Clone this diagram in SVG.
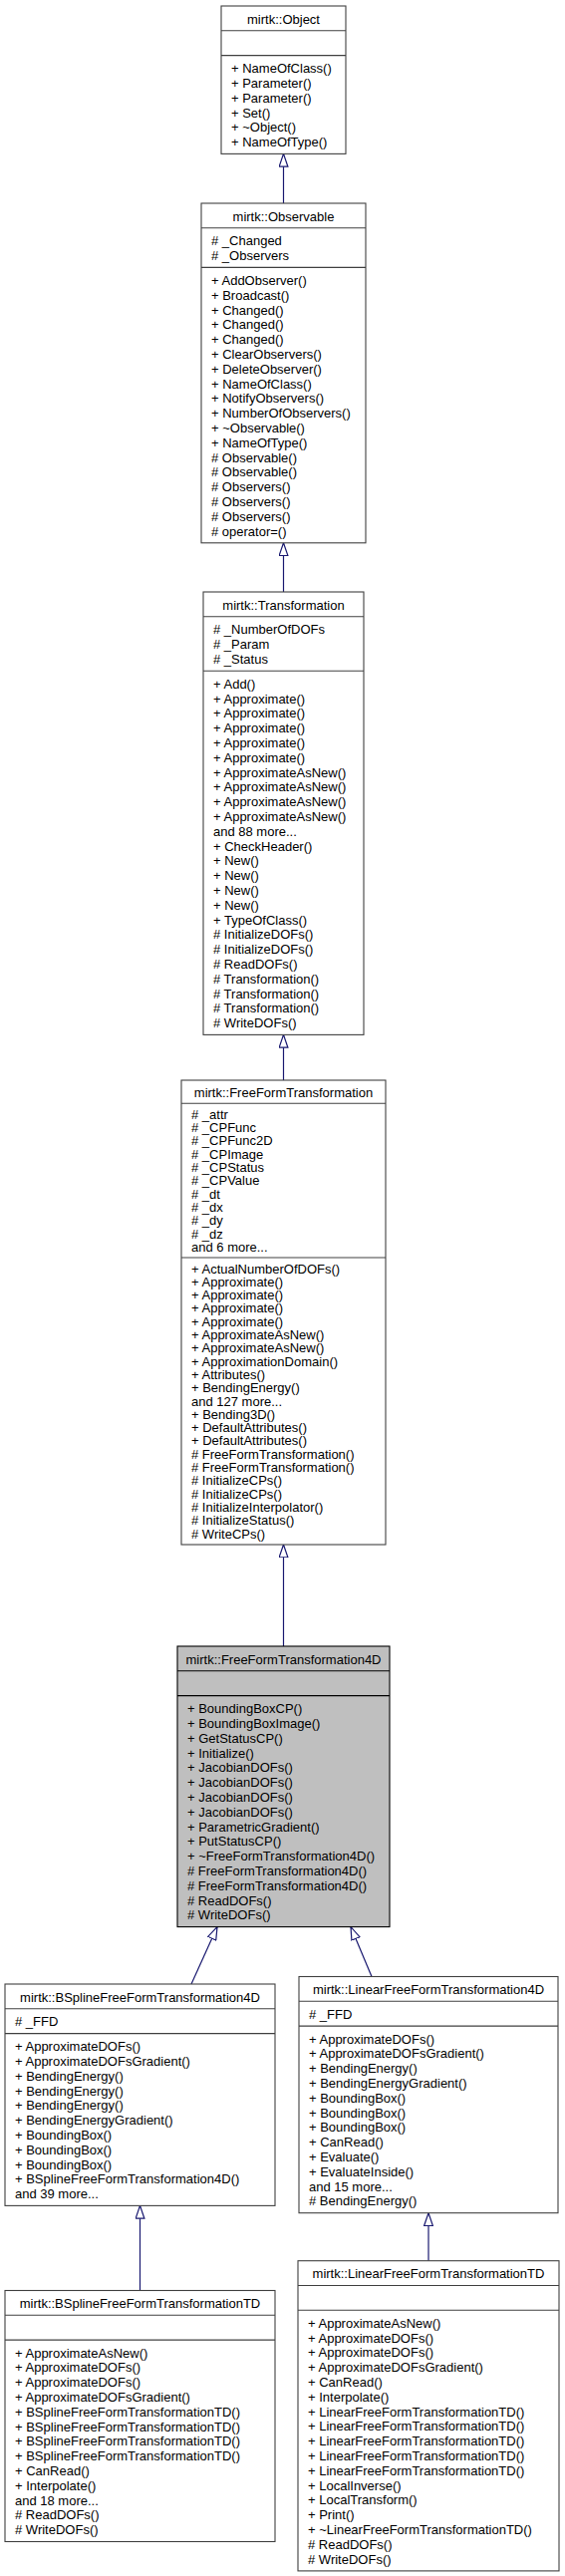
<svg xmlns="http://www.w3.org/2000/svg" width="567" height="2585" viewBox="0 0 567 2585">
<style>
.box{fill:#fff;stroke:#404040;stroke-width:1.1}
.hl{fill:#bfbfbf;stroke:#000;stroke-width:1.1}
.sep{stroke:#404040;stroke-width:1.1}
.seph{stroke:#000;stroke-width:1.1}
text{font-family:"Liberation Sans",Arial,Helvetica,sans-serif;font-size:13px;fill:#000}
.c{text-anchor:middle}
.edge{fill:none;stroke:#191970;stroke-width:1.2;marker-end:url(#inh)}
</style>
<defs>
<marker id="inh" viewBox="0 0 14 10" refX="13.4" refY="5" markerWidth="14" markerHeight="10" markerUnits="userSpaceOnUse" orient="auto">
<path d="M0.6,0.6 L13.4,5 L0.6,9.4 Z" fill="#fff" stroke="#191970" stroke-width="1.2"/>
</marker>
</defs>

<g id="edges">
<path class="edge" d="M284.5,204 L284.5,154.4"/>
<path class="edge" d="M284.5,594 L284.5,544.8"/>
<path class="edge" d="M284.5,1084 L284.5,1038.4"/>
<path class="edge" d="M284.5,1652 L284.5,1550"/>
<path class="edge" d="M192,1991 L218,1933.6"/>
<path class="edge" d="M373,1983.5 L352,1933.6"/>
<path class="edge" d="M140.5,2298.5 L140.5,2213.4"/>
<path class="edge" d="M430,2268.7 L430,2220.7"/>
</g>

<g id="Object">
<rect class="box" x="222" y="6" width="125" height="148.4"/>
<line class="sep" x1="222" y1="30.8" x2="347" y2="30.8"/>
<line class="sep" x1="222" y1="55.6" x2="347" y2="55.6"/>
<text class="c" x="284.5" y="23.5">mirtk::Object</text>
<text x="232" y="73.1"><tspan x="232">+ NameOfClass()</tspan><tspan x="232" dy="14.8">+ Parameter()</tspan><tspan x="232" dy="14.8">+ Parameter()</tspan><tspan x="232" dy="14.8">+ Set()</tspan><tspan x="232" dy="14.8">+ ~Object()</tspan><tspan x="232" dy="14.8">+ NameOfType()</tspan></text>
</g>

<g id="Observable">
<rect class="box" x="202" y="204" width="165" height="340.8"/>
<line class="sep" x1="202" y1="228.8" x2="367" y2="228.8"/>
<line class="sep" x1="202" y1="268.4" x2="367" y2="268.4"/>
<text class="c" x="284.5" y="221.5">mirtk::Observable</text>
<text x="212" y="246.3"><tspan x="212"># _Changed</tspan><tspan x="212" dy="14.8"># _Observers</tspan></text>
<text x="212" y="285.9"><tspan x="212">+ AddObserver()</tspan><tspan x="212" dy="14.8">+ Broadcast()</tspan><tspan x="212" dy="14.8">+ Changed()</tspan><tspan x="212" dy="14.8">+ Changed()</tspan><tspan x="212" dy="14.8">+ Changed()</tspan><tspan x="212" dy="14.8">+ ClearObservers()</tspan><tspan x="212" dy="14.8">+ DeleteObserver()</tspan><tspan x="212" dy="14.8">+ NameOfClass()</tspan><tspan x="212" dy="14.8">+ NotifyObservers()</tspan><tspan x="212" dy="14.8">+ NumberOfObservers()</tspan><tspan x="212" dy="14.8">+ ~Observable()</tspan><tspan x="212" dy="14.8">+ NameOfType()</tspan><tspan x="212" dy="14.8"># Observable()</tspan><tspan x="212" dy="14.8"># Observable()</tspan><tspan x="212" dy="14.8"># Observers()</tspan><tspan x="212" dy="14.8"># Observers()</tspan><tspan x="212" dy="14.8"># Observers()</tspan><tspan x="212" dy="14.8"># operator=()</tspan></text>
</g>

<g id="Transformation">
<rect class="box" x="204" y="594" width="161" height="444.4"/>
<line class="sep" x1="204" y1="618.8" x2="365" y2="618.8"/>
<line class="sep" x1="204" y1="673.2" x2="365" y2="673.2"/>
<text class="c" x="284.5" y="611.5">mirtk::Transformation</text>
<text x="214" y="636.3"><tspan x="214"># _NumberOfDOFs</tspan><tspan x="214" dy="14.8"># _Param</tspan><tspan x="214" dy="14.8"># _Status</tspan></text>
<text x="214" y="690.7"><tspan x="214">+ Add()</tspan><tspan x="214" dy="14.8">+ Approximate()</tspan><tspan x="214" dy="14.8">+ Approximate()</tspan><tspan x="214" dy="14.8">+ Approximate()</tspan><tspan x="214" dy="14.8">+ Approximate()</tspan><tspan x="214" dy="14.8">+ Approximate()</tspan><tspan x="214" dy="14.8">+ ApproximateAsNew()</tspan><tspan x="214" dy="14.8">+ ApproximateAsNew()</tspan><tspan x="214" dy="14.8">+ ApproximateAsNew()</tspan><tspan x="214" dy="14.8">+ ApproximateAsNew()</tspan><tspan x="214" dy="14.8">and 88 more...</tspan><tspan x="214" dy="14.8">+ CheckHeader()</tspan><tspan x="214" dy="14.8">+ New()</tspan><tspan x="214" dy="14.8">+ New()</tspan><tspan x="214" dy="14.8">+ New()</tspan><tspan x="214" dy="14.8">+ New()</tspan><tspan x="214" dy="14.8">+ TypeOfClass()</tspan><tspan x="214" dy="14.8"># InitializeDOFs()</tspan><tspan x="214" dy="14.8"># InitializeDOFs()</tspan><tspan x="214" dy="14.8"># ReadDOFs()</tspan><tspan x="214" dy="14.8"># Transformation()</tspan><tspan x="214" dy="14.8"># Transformation()</tspan><tspan x="214" dy="14.8"># Transformation()</tspan><tspan x="214" dy="14.8"># WriteDOFs()</tspan></text>
</g>

<g id="FreeFormTransformation">
<rect class="box" x="182" y="1084" width="205" height="466"/>
<line class="sep" x1="182" y1="1107.3" x2="387" y2="1107.3"/>
<line class="sep" x1="182" y1="1262" x2="387" y2="1262"/>
<text class="c" x="284.5" y="1100.5">mirtk::FreeFormTransformation</text>
<text x="192" y="1122.8"><tspan x="192"># _attr</tspan><tspan x="192" dy="13.3"># _CPFunc</tspan><tspan x="192" dy="13.3"># _CPFunc2D</tspan><tspan x="192" dy="13.3"># _CPImage</tspan><tspan x="192" dy="13.3"># _CPStatus</tspan><tspan x="192" dy="13.3"># _CPValue</tspan><tspan x="192" dy="13.3"># _dt</tspan><tspan x="192" dy="13.3"># _dx</tspan><tspan x="192" dy="13.3"># _dy</tspan><tspan x="192" dy="13.3"># _dz</tspan><tspan x="192" dy="13.3">and 6 more...</tspan></text>
<text x="192" y="1277.5"><tspan x="192">+ ActualNumberOfDOFs()</tspan><tspan x="192" dy="13.3">+ Approximate()</tspan><tspan x="192" dy="13.3">+ Approximate()</tspan><tspan x="192" dy="13.3">+ Approximate()</tspan><tspan x="192" dy="13.3">+ Approximate()</tspan><tspan x="192" dy="13.3">+ ApproximateAsNew()</tspan><tspan x="192" dy="13.3">+ ApproximateAsNew()</tspan><tspan x="192" dy="13.3">+ ApproximationDomain()</tspan><tspan x="192" dy="13.3">+ Attributes()</tspan><tspan x="192" dy="13.3">+ BendingEnergy()</tspan><tspan x="192" dy="13.3">and 127 more...</tspan><tspan x="192" dy="13.3">+ Bending3D()</tspan><tspan x="192" dy="13.3">+ DefaultAttributes()</tspan><tspan x="192" dy="13.3">+ DefaultAttributes()</tspan><tspan x="192" dy="13.3"># FreeFormTransformation()</tspan><tspan x="192" dy="13.3"># FreeFormTransformation()</tspan><tspan x="192" dy="13.3"># InitializeCPs()</tspan><tspan x="192" dy="13.3"># InitializeCPs()</tspan><tspan x="192" dy="13.3"># InitializeInterpolator()</tspan><tspan x="192" dy="13.3"># InitializeStatus()</tspan><tspan x="192" dy="13.3"># WriteCPs()</tspan></text>
</g>

<g id="FreeFormTransformation4D">
<rect class="hl" x="178" y="1652" width="213" height="281.6"/>
<line class="seph" x1="178" y1="1676.8" x2="391" y2="1676.8"/>
<line class="seph" x1="178" y1="1701.6" x2="391" y2="1701.6"/>
<text class="c" x="284.5" y="1669.5">mirtk::FreeFormTransformation4D</text>
<text x="188" y="1719.1"><tspan x="188">+ BoundingBoxCP()</tspan><tspan x="188" dy="14.8">+ BoundingBoxImage()</tspan><tspan x="188" dy="14.8">+ GetStatusCP()</tspan><tspan x="188" dy="14.8">+ Initialize()</tspan><tspan x="188" dy="14.8">+ JacobianDOFs()</tspan><tspan x="188" dy="14.8">+ JacobianDOFs()</tspan><tspan x="188" dy="14.8">+ JacobianDOFs()</tspan><tspan x="188" dy="14.8">+ JacobianDOFs()</tspan><tspan x="188" dy="14.8">+ ParametricGradient()</tspan><tspan x="188" dy="14.8">+ PutStatusCP()</tspan><tspan x="188" dy="14.8">+ ~FreeFormTransformation4D()</tspan><tspan x="188" dy="14.8"># FreeFormTransformation4D()</tspan><tspan x="188" dy="14.8"># FreeFormTransformation4D()</tspan><tspan x="188" dy="14.8"># ReadDOFs()</tspan><tspan x="188" dy="14.8"># WriteDOFs()</tspan></text>
</g>

<g id="BSplineFreeFormTransformation4D">
<rect class="box" x="5" y="1991" width="271" height="222.4"/>
<line class="sep" x1="5" y1="2015.8" x2="276" y2="2015.8"/>
<line class="sep" x1="5" y1="2040.6" x2="276" y2="2040.6"/>
<text class="c" x="140.5" y="2008.5">mirtk::BSplineFreeFormTransformation4D</text>
<text x="15" y="2033.3"># _FFD</text>
<text x="15" y="2058.1"><tspan x="15">+ ApproximateDOFs()</tspan><tspan x="15" dy="14.8">+ ApproximateDOFsGradient()</tspan><tspan x="15" dy="14.8">+ BendingEnergy()</tspan><tspan x="15" dy="14.8">+ BendingEnergy()</tspan><tspan x="15" dy="14.8">+ BendingEnergy()</tspan><tspan x="15" dy="14.8">+ BendingEnergyGradient()</tspan><tspan x="15" dy="14.8">+ BoundingBox()</tspan><tspan x="15" dy="14.8">+ BoundingBox()</tspan><tspan x="15" dy="14.8">+ BoundingBox()</tspan><tspan x="15" dy="14.8">+ BSplineFreeFormTransformation4D()</tspan><tspan x="15" dy="14.8">and 39 more...</tspan></text>
</g>

<g id="LinearFreeFormTransformation4D">
<rect class="box" x="300" y="1983.5" width="260" height="237.2"/>
<line class="sep" x1="300" y1="2008.3" x2="560" y2="2008.3"/>
<line class="sep" x1="300" y1="2033.1" x2="560" y2="2033.1"/>
<text class="c" x="430" y="2001">mirtk::LinearFreeFormTransformation4D</text>
<text x="310" y="2025.8"># _FFD</text>
<text x="310" y="2050.6"><tspan x="310">+ ApproximateDOFs()</tspan><tspan x="310" dy="14.8">+ ApproximateDOFsGradient()</tspan><tspan x="310" dy="14.8">+ BendingEnergy()</tspan><tspan x="310" dy="14.8">+ BendingEnergyGradient()</tspan><tspan x="310" dy="14.8">+ BoundingBox()</tspan><tspan x="310" dy="14.8">+ BoundingBox()</tspan><tspan x="310" dy="14.8">+ BoundingBox()</tspan><tspan x="310" dy="14.8">+ CanRead()</tspan><tspan x="310" dy="14.8">+ Evaluate()</tspan><tspan x="310" dy="14.8">+ EvaluateInside()</tspan><tspan x="310" dy="14.8">and 15 more...</tspan><tspan x="310" dy="14.8"># BendingEnergy()</tspan></text>
</g>

<g id="BSplineFreeFormTransformationTD">
<rect class="box" x="5" y="2298.5" width="271" height="252"/>
<line class="sep" x1="5" y1="2323.3" x2="276" y2="2323.3"/>
<line class="sep" x1="5" y1="2348.1" x2="276" y2="2348.1"/>
<text class="c" x="140.5" y="2316">mirtk::BSplineFreeFormTransformationTD</text>
<text x="15" y="2365.6"><tspan x="15">+ ApproximateAsNew()</tspan><tspan x="15" dy="14.8">+ ApproximateDOFs()</tspan><tspan x="15" dy="14.8">+ ApproximateDOFs()</tspan><tspan x="15" dy="14.8">+ ApproximateDOFsGradient()</tspan><tspan x="15" dy="14.8">+ BSplineFreeFormTransformationTD()</tspan><tspan x="15" dy="14.8">+ BSplineFreeFormTransformationTD()</tspan><tspan x="15" dy="14.8">+ BSplineFreeFormTransformationTD()</tspan><tspan x="15" dy="14.8">+ BSplineFreeFormTransformationTD()</tspan><tspan x="15" dy="14.8">+ CanRead()</tspan><tspan x="15" dy="14.8">+ Interpolate()</tspan><tspan x="15" dy="14.8">and 18 more...</tspan><tspan x="15" dy="14.8"># ReadDOFs()</tspan><tspan x="15" dy="14.8"># WriteDOFs()</tspan></text>
</g>

<g id="LinearFreeFormTransformationTD">
<rect class="box" x="299" y="2268.7" width="262" height="311.2"/>
<line class="sep" x1="299" y1="2293.5" x2="561" y2="2293.5"/>
<line class="sep" x1="299" y1="2318.3" x2="561" y2="2318.3"/>
<text class="c" x="430" y="2286.2">mirtk::LinearFreeFormTransformationTD</text>
<text x="309" y="2335.8"><tspan x="309">+ ApproximateAsNew()</tspan><tspan x="309" dy="14.8">+ ApproximateDOFs()</tspan><tspan x="309" dy="14.8">+ ApproximateDOFs()</tspan><tspan x="309" dy="14.8">+ ApproximateDOFsGradient()</tspan><tspan x="309" dy="14.8">+ CanRead()</tspan><tspan x="309" dy="14.8">+ Interpolate()</tspan><tspan x="309" dy="14.8">+ LinearFreeFormTransformationTD()</tspan><tspan x="309" dy="14.8">+ LinearFreeFormTransformationTD()</tspan><tspan x="309" dy="14.8">+ LinearFreeFormTransformationTD()</tspan><tspan x="309" dy="14.8">+ LinearFreeFormTransformationTD()</tspan><tspan x="309" dy="14.8">+ LinearFreeFormTransformationTD()</tspan><tspan x="309" dy="14.8">+ LocalInverse()</tspan><tspan x="309" dy="14.8">+ LocalTransform()</tspan><tspan x="309" dy="14.8">+ Print()</tspan><tspan x="309" dy="14.8">+ ~LinearFreeFormTransformationTD()</tspan><tspan x="309" dy="14.8"># ReadDOFs()</tspan><tspan x="309" dy="14.8"># WriteDOFs()</tspan></text>
</g>
</svg>
